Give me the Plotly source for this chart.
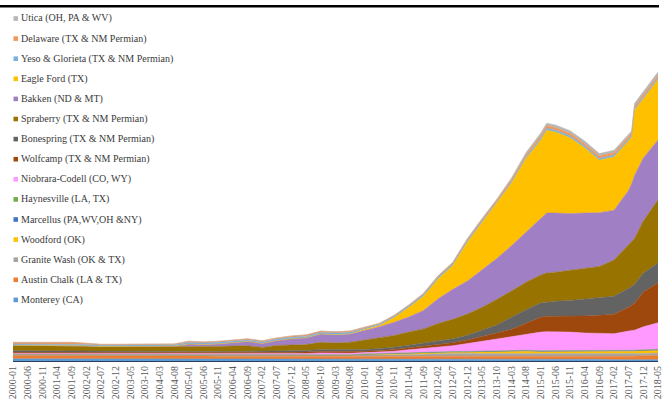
import plotly.graph_objects as go

# ---------------- data ----------------
dates = ["2000-01", "2000-06", "2000-11", "2001-04", "2001-09", "2002-02", "2002-07", "2002-12",
         "2003-05", "2003-10", "2004-03", "2004-08", "2005-01", "2005-06", "2005-11", "2006-04",
         "2006-09", "2007-02", "2007-07", "2007-12", "2008-05", "2008-10", "2009-03", "2009-08",
         "2010-01", "2010-06", "2010-11", "2011-04", "2011-09", "2012-02", "2012-07", "2012-12",
         "2013-05", "2013-10", "2014-03", "2014-08", "2015-01", "2015-03", "2015-06", "2015-11",
         "2016-04", "2016-09", "2017-02", "2017-07", "2017-08", "2017-09", "2017-12", "2018-05"]

tick_labels = ["2000-01", "2000-06", "2000-11", "2001-04", "2001-09", "2002-02", "2002-07", "2002-12",
               "2003-05", "2003-10", "2004-03", "2004-08", "2005-01", "2005-06", "2005-11", "2006-04",
               "2006-09", "2007-02", "2007-07", "2007-12", "2008-05", "2008-10", "2009-03", "2009-08",
               "2010-01", "2010-06", "2010-11", "2011-04", "2011-09", "2012-02", "2012-07", "2012-12",
               "2013-05", "2013-10", "2014-03", "2014-08", "2015-01", "2015-06", "2015-11", "2016-04",
               "2016-09", "2017-02", "2017-07", "2017-12", "2018-05"]

monterey = [0.05, 0.05, 0.05, 0.05, 0.05, 0.05, 0.05, 0.05, 0.05, 0.05,
            0.05, 0.05, 0.05, 0.05, 0.05, 0.05, 0.05, 0.05, 0.05, 0.05,
            0.05, 0.05, 0.05, 0.05, 0.05, 0.05, 0.05, 0.05, 0.05, 0.05,
            0.05, 0.05, 0.05, 0.05, 0.04, 0.04, 0.04, 0.04, 0.04, 0.04,
            0.04, 0.04, 0.03, 0.03, 0.03, 0.03, 0.03, 0.03]
austin_chalk = [0.08, 0.08, 0.08, 0.08, 0.08, 0.075, 0.07, 0.07, 0.07, 0.07,
                0.07, 0.07, 0.065, 0.065, 0.06, 0.06, 0.06, 0.06, 0.06, 0.06,
                0.06, 0.06, 0.06, 0.06, 0.06, 0.055, 0.05, 0.05, 0.05, 0.05,
                0.05, 0.05, 0.05, 0.05, 0.06, 0.06, 0.06, 0.06, 0.06, 0.06,
                0.06, 0.06, 0.075, 0.08, 0.08, 0.08, 0.09, 0.10]
granite_wash = [0.01, 0.01, 0.01, 0.01, 0.01, 0.01, 0.01, 0.01, 0.01, 0.01,
                0.01, 0.01, 0.015, 0.015, 0.015, 0.015, 0.015, 0.015, 0.015, 0.015,
                0.02, 0.02, 0.02, 0.02, 0.03, 0.035, 0.04, 0.05, 0.06, 0.07,
                0.07, 0.07, 0.07, 0.07, 0.07, 0.07, 0.06, 0.06, 0.06, 0.06,
                0.06, 0.06, 0.05, 0.05, 0.05, 0.05, 0.05, 0.05]
woodford = [0.005, 0.005, 0.005, 0.005, 0.005, 0.005, 0.005, 0.005, 0.005, 0.005,
            0.005, 0.005, 0.005, 0.005, 0.005, 0.005, 0.005, 0.005, 0.005, 0.005,
            0.005, 0.005, 0.005, 0.005, 0.01, 0.012, 0.015, 0.02, 0.02, 0.025,
            0.028, 0.03, 0.035, 0.04, 0.05, 0.05, 0.05, 0.05, 0.05, 0.05,
            0.05, 0.05, 0.06, 0.06, 0.06, 0.06, 0.06, 0.06]
marcellus = [0.0, 0.0, 0.0, 0.0, 0.0, 0.0, 0.0, 0.0, 0.0, 0.0,
             0.0, 0.0, 0.0, 0.0, 0.0, 0.0, 0.0, 0.0, 0.0, 0.0,
             0.0, 0.0, 0.0, 0.002, 0.005, 0.008, 0.01, 0.01, 0.012, 0.012,
             0.012, 0.01, 0.01, 0.01, 0.02, 0.02, 0.02, 0.02, 0.02, 0.02,
             0.02, 0.02, 0.02, 0.02, 0.02, 0.02, 0.02, 0.02]
haynesville = [0.003, 0.003, 0.003, 0.003, 0.003, 0.003, 0.003, 0.003, 0.003, 0.003,
               0.003, 0.003, 0.003, 0.003, 0.003, 0.003, 0.003, 0.003, 0.003, 0.003,
               0.003, 0.003, 0.003, 0.003, 0.005, 0.005, 0.005, 0.005, 0.005, 0.005,
               0.005, 0.005, 0.005, 0.005, 0.005, 0.005, 0.005, 0.005, 0.005, 0.005,
               0.005, 0.005, 0.005, 0.005, 0.005, 0.005, 0.005, 0.005]
niobrara = [0.02, 0.02, 0.02, 0.02, 0.02, 0.02, 0.02, 0.02, 0.02, 0.02,
            0.02, 0.02, 0.02, 0.02, 0.02, 0.025, 0.025, 0.03, 0.03, 0.03,
            0.03, 0.045, 0.04, 0.035, 0.03, 0.04, 0.05, 0.07, 0.09, 0.11,
            0.13, 0.18, 0.23, 0.27, 0.30, 0.36, 0.42, 0.43, 0.43, 0.42,
            0.40, 0.39, 0.38, 0.435, 0.445, 0.455, 0.52, 0.60]
wolfcamp = [0.03, 0.03, 0.03, 0.03, 0.03, 0.03, 0.03, 0.03, 0.03, 0.03,
            0.03, 0.03, 0.03, 0.03, 0.03, 0.03, 0.035, 0.035, 0.035, 0.035,
            0.035, 0.04, 0.04, 0.04, 0.03, 0.035, 0.04, 0.045, 0.05, 0.06,
            0.07, 0.08, 0.10, 0.13, 0.17, 0.25, 0.34, 0.35, 0.35, 0.36,
            0.385, 0.41, 0.44, 0.54, 0.58, 0.61, 0.79, 0.91]
bonespring = [0.035, 0.035, 0.035, 0.035, 0.035, 0.035, 0.03, 0.03, 0.03, 0.03,
              0.03, 0.03, 0.03, 0.03, 0.03, 0.03, 0.035, 0.035, 0.035, 0.035,
              0.035, 0.04, 0.04, 0.04, 0.04, 0.045, 0.05, 0.06, 0.07, 0.08,
              0.09, 0.11, 0.15, 0.19, 0.28, 0.31, 0.32, 0.32, 0.34, 0.36,
              0.385, 0.41, 0.41, 0.43, 0.43, 0.43, 0.43, 0.45]
spraberry = [0.115, 0.115, 0.115, 0.115, 0.115, 0.105, 0.10, 0.10, 0.10, 0.10,
             0.10, 0.105, 0.115, 0.11, 0.115, 0.12, 0.12, 0.075, 0.12, 0.13,
             0.135, 0.16, 0.15, 0.17, 0.22, 0.24, 0.27, 0.30, 0.32, 0.39,
             0.44, 0.48, 0.52, 0.58, 0.60, 0.62, 0.635, 0.66, 0.66, 0.68,
             0.70, 0.70, 0.82, 0.975, 1.0, 1.04, 1.18, 1.43]
bakken = [0.01, 0.01, 0.01, 0.01, 0.01, 0.01, 0.01, 0.01, 0.01, 0.01,
          0.01, 0.015, 0.05, 0.045, 0.06, 0.08, 0.095, 0.09, 0.11, 0.14,
          0.155, 0.19, 0.19, 0.19, 0.22, 0.25, 0.30, 0.34, 0.42, 0.56,
          0.68, 0.75, 0.85, 0.93, 1.02, 1.14, 1.29, 1.36, 1.34, 1.29,
          1.25, 1.22, 1.13, 1.25, 1.32, 1.43, 1.43, 1.36]
eagle_ford = [0.0, 0.0, 0.0, 0.0, 0.0, 0.0, 0.0, 0.0, 0.0, 0.0,
              0.0, 0.0, 0.0, 0.0, 0.0, 0.0, 0.0, 0.0, 0.0, 0.0,
              0.0, 0.0, 0.0, 0.0, 0.02, 0.03, 0.105, 0.215, 0.32, 0.45,
              0.54, 0.88, 1.07, 1.245, 1.42, 1.67, 1.77, 1.88, 1.84, 1.72,
              1.48, 1.19, 1.21, 1.12, 1.05, 1.48, 1.34, 1.37]
yeso = [0.03, 0.03, 0.03, 0.03, 0.03, 0.03, 0.03, 0.03, 0.03, 0.03,
        0.03, 0.03, 0.035, 0.035, 0.035, 0.035, 0.035, 0.035, 0.035, 0.035,
        0.035, 0.035, 0.035, 0.035, 0.03, 0.03, 0.03, 0.035, 0.04, 0.04,
        0.04, 0.04, 0.04, 0.04, 0.04, 0.04, 0.045, 0.045, 0.045, 0.045,
        0.04, 0.04, 0.04, 0.04, 0.04, 0.04, 0.04, 0.04]
delaware = [0.035, 0.035, 0.035, 0.035, 0.035, 0.03, 0.02, 0.02, 0.02, 0.02,
            0.02, 0.02, 0.03, 0.025, 0.025, 0.025, 0.025, 0.025, 0.025, 0.03,
            0.03, 0.03, 0.03, 0.03, 0.02, 0.02, 0.02, 0.02, 0.025, 0.03,
            0.03, 0.035, 0.04, 0.04, 0.045, 0.05, 0.055, 0.055, 0.055, 0.055,
            0.055, 0.055, 0.055, 0.055, 0.055, 0.055, 0.055, 0.05]
utica = [0.0, 0.0, 0.0, 0.0, 0.0, 0.0, 0.0, 0.0, 0.0, 0.0,
         0.0, 0.0, 0.0, 0.0, 0.0, 0.0, 0.0, 0.0, 0.0, 0.0,
         0.0, 0.0, 0.0, 0.0, 0.0, 0.0, 0.0, 0.0, 0.0, 0.0,
         0.005, 0.01, 0.015, 0.02, 0.03, 0.045, 0.06, 0.06, 0.06, 0.06,
         0.06, 0.055, 0.055, 0.055, 0.055, 0.06, 0.065, 0.08]

# stacking order bottom -> top
series_names = ["Monterey (CA)", "Austin Chalk (LA & TX)", "Granite Wash (OK & TX)", "Woodford (OK)",
                "Marcellus (PA,WV,OH &NY)", "Haynesville (LA, TX)", "Niobrara-Codell (CO, WY)",
                "Wolfcamp (TX & NM Permian)", "Bonespring (TX & NM Permian)", "Spraberry (TX & NM Permian)",
                "Bakken (ND & MT)", "Eagle Ford (TX)", "Yeso & Glorieta (TX & NM Permian)",
                "Delaware (TX & NM Permian)", "Utica (OH, PA & WV)"]
series_values = [monterey, austin_chalk, granite_wash, woodford, marcellus, haynesville, niobrara,
                 wolfcamp, bonespring, spraberry, bakken, eagle_ford, yeso, delaware, utica]
series_colors = ["#5B9BD5", "#ED7D31", "#A5A5A5", "#FFC000", "#4472C4", "#70AD47", "#FF99FF",
                 "#9E480E", "#636363", "#997300", "#A07FC4", "#FFC000", "#7CAFDD", "#F1975A", "#B7B7B7"]

# ---------------- figure ----------------
W, H = 666, 403
ML, MR, MT, MB = 13, 8, 9, 42
PW, PH = W - ML - MR, H - MT - MB


def month_index(s):
    y, m = s.split("-")
    return (int(y) - 2000) * 12 + int(m) - 1


x = [month_index(d) for d in dates]
tickvals = [month_index(t) for t in tick_labels]

fig = go.Figure()
for name, vals, col in zip(series_names, series_values, series_colors):
    fig.add_trace(go.Scatter(x=x, y=vals, name=name, stackgroup="one", mode="lines",
                             line=dict(width=0.5, color=col), fillcolor=col,
                             showlegend=False, hoverinfo="skip"))


def px_x(p):
    return (p - ML) / PW


def px_y(p):
    return (H - MB - p) / PH


serif = "Liberation Serif"
annotations = []
shapes = []
legend_names = list(reversed(series_names))
legend_colors = list(reversed(series_colors))
for i, (nm, col) in enumerate(zip(legend_names, legend_colors)):
    yc = 18.5 + 20.1 * i
    annotations.append(dict(text=nm, xref="paper", yref="paper", x=px_x(19), y=px_y(yc),
                            xanchor="left", yanchor="middle", showarrow=False,
                            font=dict(family=serif, size=10, color="#3A3A3A")))
    shapes.append(dict(type="rect", xref="paper", yref="paper",
                       x0=px_x(13.5), x1=px_x(18), y0=px_y(yc + 2.3), y1=px_y(yc - 2.3),
                       fillcolor=col, line=dict(width=0)))

# top border line
shapes.append(dict(type="line", xref="paper", yref="paper", x0=px_x(0), x1=px_x(659),
                   y0=px_y(6.3), y1=px_y(6.3), line=dict(color="black", width=2.5)))

fig.update_layout(
    width=W, height=H,
    margin=dict(l=ML, r=MR, t=MT, b=MB, autoexpand=False),
    paper_bgcolor="white", plot_bgcolor="white",
    showlegend=False,
    annotations=annotations,
    shapes=shapes,
    xaxis=dict(range=[0, 220], tickmode="array", tickvals=tickvals, ticktext=tick_labels,
               tickangle=-90, tickfont=dict(family=serif, size=10, color="#595959"),
               automargin=False,
               showgrid=False, zeroline=False, showline=True, linecolor="#2B3F5C", linewidth=1,
               ticks=""),
    yaxis=dict(range=[0, 8.03 * (403 - 42 - 9) / 354], visible=False, showgrid=False,
               zeroline=False, automargin=False),
)

fig.write_html("out.html", config={"displayModeBar": False, "staticPlot": True},
               post_script="document.body.style.margin='0';document.body.style.overflow='hidden';")
